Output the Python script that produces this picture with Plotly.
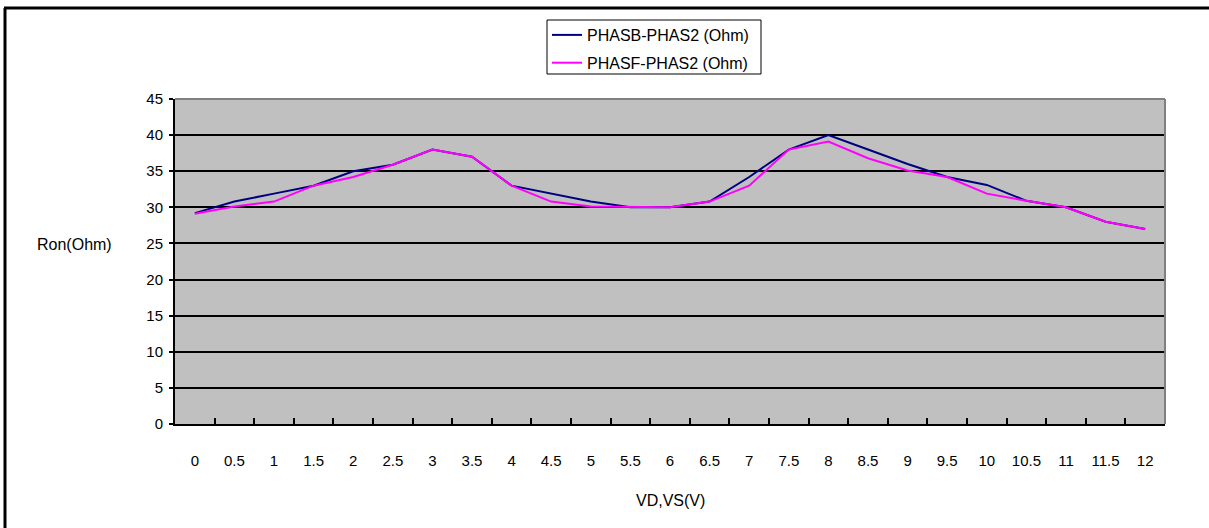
import plotly.graph_objects as go

# data
vd_vs = ["0", "0.5", "1", "1.5", "2", "2.5", "3", "3.5", "4", "4.5", "5", "5.5",
         "6", "6.5", "7", "7.5", "8", "8.5", "9", "9.5", "10", "10.5", "11", "11.5", "12"]
phasb = [29.2, 30.8, 31.9, 33.0, 35.0, 35.9, 38.0, 37.0, 33.0, 31.9, 30.8, 30.0,
         30.0, 30.8, 34.2, 38.0, 40.0, 38.0, 36.0, 34.2, 33.1, 30.9, 30.0, 28.0, 27.0]
phasf = [29.1, 30.1, 30.8, 33.0, 34.2, 35.9, 38.0, 37.0, 33.0, 30.8, 30.1, 30.0,
         30.0, 30.8, 33.0, 38.0, 39.1, 36.8, 35.1, 34.2, 31.9, 30.9, 30.0, 28.0, 27.0]
y_ticks = [0, 5, 10, 15, 20, 25, 30, 35, 40, 45]

W, H = 1209, 528
L, R, T, B = 175, 1165, 99, 424   # plot area in pixels
FONT = "Liberation Sans, Arial, sans-serif"


def px(x):
  return (x - L) / (R - L)


def py(y):
  return (B - y) / (B - T)


fig = go.Figure()
fig.add_trace(go.Scatter(x=vd_vs, y=phasb, mode="lines", name="PHASB-PHAS2 (Ohm)",
                         line=dict(color="#000080", width=2), legendgroup="a"))
fig.add_trace(go.Scatter(x=vd_vs, y=phasf, mode="lines", name="PHASF-PHAS2 (Ohm)",
                         line=dict(color="#FF00FF", width=2), legendgroup="b"))

fig.update_layout(
  width=W, height=H,
  margin=dict(l=L, r=W - R, t=T, b=H - B),
  paper_bgcolor="white", plot_bgcolor="#C0C0C0",
  font=dict(family=FONT, size=15, color="black"),
  showlegend=True,
  legend=dict(x=px(547), y=py(18), xanchor="left", yanchor="top",
              bgcolor="rgba(0,0,0,0)", borderwidth=0,
              traceorder="grouped", tracegroupgap=4,
              font=dict(family=FONT, size=16, color="black")),
)

fig.update_xaxes(type="category", range=[-0.5, len(vd_vs) - 0.5],
                 showgrid=False, showline=True, linecolor="black", linewidth=2,
                 ticks="inside", tickson="boundaries", ticklen=6, tickwidth=2,
                 tickcolor="black", ticklabelstandoff=22, tickangle=0)
fig.update_yaxes(range=[0, 45], tickvals=y_ticks, showgrid=True, gridcolor="black",
                 gridwidth=2, zeroline=False, showline=True, linecolor="black",
                 linewidth=2, ticks="outside", ticklen=4, tickwidth=2,
                 tickcolor="black", ticklabelstandoff=3)

# gray top / right border of the plot area
fig.add_shape(type="line", xref="paper", yref="paper", x0=0, x1=1, y0=1, y1=1,
              line=dict(color="#808080", width=2))
fig.add_shape(type="line", xref="paper", yref="paper", x0=1, x1=1, y0=0, y1=1,
              line=dict(color="#808080", width=2))
# outer chart frame (left and top only visible)
fig.add_shape(type="line", xref="paper", yref="paper", x0=px(5), x1=px(5), y0=py(8), y1=py(530),
              line=dict(color="black", width=3))
fig.add_shape(type="line", xref="paper", yref="paper", x0=px(4), x1=px(1212), y0=py(8), y1=py(8),
              line=dict(color="black", width=3))
# legend box
fig.add_shape(type="rect", xref="paper", yref="paper", x0=px(547), x1=px(761), y0=py(20), y1=py(74),
              line=dict(color="black", width=1), fillcolor="white", layer="below")

fig.add_annotation(text="Ron(Ohm)", xref="paper", yref="paper", x=px(74), y=py(244),
                   showarrow=False, xanchor="center", yanchor="middle",
                   font=dict(size=16))
fig.add_annotation(text="VD,VS(V)", xref="paper", yref="paper", x=px(670), y=py(500),
                   showarrow=False, xanchor="center", yanchor="middle",
                   font=dict(size=16))

fig.write_html("out.html", config={"displayModeBar": False},
               post_script="document.body.style.margin='0';")
